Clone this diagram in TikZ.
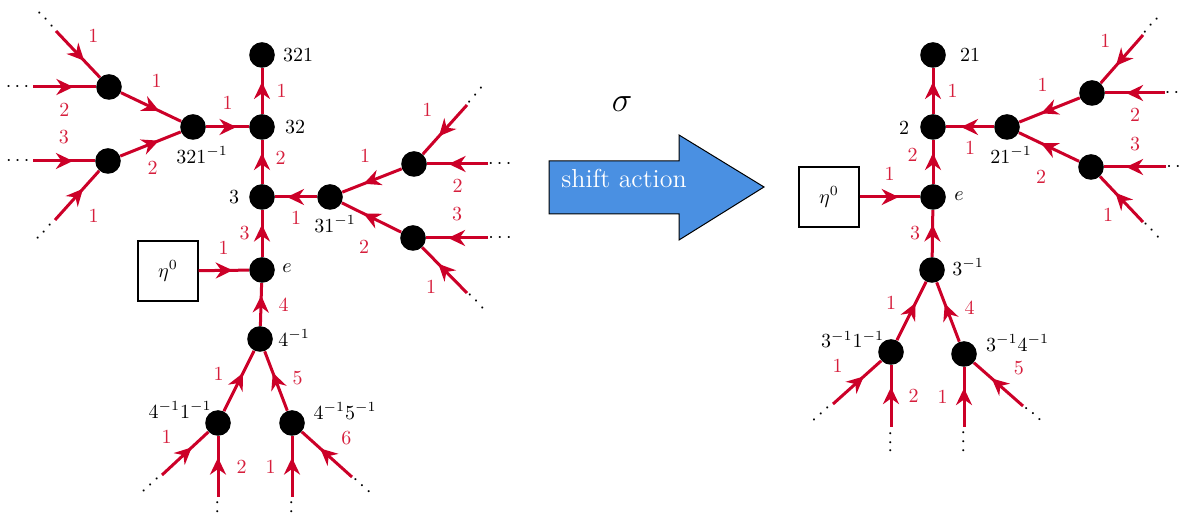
\documentclass[tikz,border=0pt]{standalone}
\usepackage{amsmath, amssymb}
\usepackage{tikz}
\usetikzlibrary{arrows.meta, positioning, calc, decorations.markings}

\definecolor{edgered}{RGB}{204,0,40}
\definecolor{lblred}{RGB}{214,30,60}
\definecolor{shiftblue}{RGB}{74,144,226}

\begin{document}
\begin{tikzpicture}[x=0.5pt, y=-0.5pt,
    V/.style={circle, fill=black, minimum size=12.8pt, inner sep=0pt},
    seed/.style={draw, line width=0.6pt, minimum size=30pt, inner sep=0pt},
    tag/.style={inner sep=0pt},
    lbl/.style={text=lblred, inner sep=2pt},
    dts/.style={text=black, inner sep=0pt, sloped, pos=-0.22},
    E/.style={edgered, line width=1.5pt, postaction={decorate},
      decoration={markings, mark=at position 0.5*\pgfdecoratedpathlength+4.5pt with {\arrow{Stealth[length=8.5pt, width=8pt, inset=2.8pt]}}}}
  ]
  \useasboundingbox (0,0) rectangle (1183,517);

  % ---- left tree ----
  \node[V] (n321) at (262,55) {};
  \node[V] (n32) at (262,127) {};
  \node[V] (n3) at (262,197) {};
  \node[V] (ne) at (262,270) {};
  \node[V] (n4i) at (260,339) {};
  \node[V] (n41) at (218,423) {};
  \node[V] (n45) at (292,423) {};
  \node[V] (n321i) at (193,127) {};
  \node[V] (nup) at (109,87) {};
  \node[V] (nlo) at (108,161) {};
  \node[V] (n31i) at (330,197) {};
  \node[V] (nru) at (414,164) {};
  \node[V] (nrl) at (413,238) {};
  \node[seed] (seedL) at (168,271) {$\eta^0$};

  % vertex names
  \node[tag] (t321) at ($(n321)+(36,0)$) {$321$};
  \node[tag] (t32) at ($(n32)+(33,0)$) {$32$};
  \node[tag] (t3) at ($(n3)+(-28,0)$) {$3$};
  \node[tag] (te) at ($(ne)+(25,-2)$) {$e$};
  \node[tag] (t4i) at ($(n4i)+(34,-1)$) {$4^{-1}$};
  \node[tag] (t321i) at ($(n321i)+(9,28)$) {$321^{-1}$};
  \node[tag] (t31i) at ($(n31i)+(5,27)$) {$31^{-1}$};
  \node[tag] (t41) at ($(n41)+(-38,-13)$) {$4^{-1}1^{-1}$};
  \node[tag] (t45) at ($(n45)+(53,-12)$) {$4^{-1}5^{-1}$};

  % loose ends
  \coordinate (lf1) at (56,31);
  \coordinate (lf2) at (33,87);
  \coordinate (lf3) at (33,161);
  \coordinate (lf4) at (55,220);
  \coordinate (lf5) at (162,475);
  \coordinate (lf6) at (218,497);
  \coordinate (lf7) at (292,497);
  \coordinate (lf8) at (352,477);
  \coordinate (lf9) at (467,105);
  \coordinate (lf10) at (488,164);
  \coordinate (lf11) at (488,238);
  \coordinate (lf12) at (467,293);

  \draw[E] (lf1) -- (nup) node[lbl, midway, above right=3pt and 2.5pt] {1} node[dts] {$\cdots$};
  \draw[E] (lf2) -- (nup) node[lbl, midway, below=5.5pt] {2} node[dts] {$\cdots$};
  \draw[E] (lf3) -- (nlo) node[lbl, midway, above=6pt] {3} node[dts] {$\cdots$};
  \draw[E] (lf4) -- (nlo) node[lbl, midway, below right=4pt and 3pt] {1} node[dts] {$\cdots$};
  \draw[E] (nup) -- (n321i) node[lbl, midway, above=7pt, xshift=2.75pt] {1};
  \draw[E] (nlo) -- (n321i) node[lbl, midway, below=6pt, xshift=1pt] {2};
  \draw[E] (n321i) -- (n32) node[lbl, midway, above=6pt] {1};
  \draw[E] (n32) -- (n321) node[lbl, midway, right=4.5pt] {1};
  \draw[E] (n3) -- (n32) node[lbl, midway, right=4pt, yshift=2pt] {2};
  \draw[E] (ne) -- (n3) node[lbl, midway, left=3.5pt] {3};
  \draw[E] (seedL) -- (ne) node[lbl, midway, above=5pt] {1};
  \draw[E] (n4i) -- (ne) node[lbl, midway, right=6pt] {4};
  \draw[E] (n41) -- (n4i) node[lbl, midway, left=5pt, yshift=3.5pt] {1};
  \draw[E] (n45) -- (n4i) node[lbl, midway, right=5.5pt, yshift=1.5pt] {5};
  \draw[E] (lf5) -- (n41) node[lbl, midway, above left=2pt and 4pt] {1} node[dts] {$\cdots$};
  \draw[E] (lf6) -- (n41) node[lbl, midway, right=6.5pt] {2} node[dts] {$\cdots$};
  \draw[E] (lf7) -- (n45) node[lbl, midway, left=5.5pt] {1} node[dts] {$\cdots$};
  \draw[E] (lf8) -- (n45) node[lbl, midway, above right=2pt and 4.5pt] {6} node[dts] {$\cdots$};
  \draw[E] (n31i) -- (n3) node[lbl, midway, below=4.5pt] {1};
  \draw[E] (nru) -- (n31i) node[lbl, midway, above=6pt, xshift=-3.5pt] {1};
  \draw[E] (nrl) -- (n31i) node[lbl, midway, below=8.5pt, xshift=-3.75pt] {2};
  \draw[E] (lf9) -- (nru) node[lbl, midway, above left=4pt and 3.5pt] {1} node[dts] {$\cdots$};
  \draw[E] (lf10) -- (nru) node[lbl, midway, below=5pt] {2} node[dts] {$\cdots$};
  \draw[E] (lf11) -- (nrl) node[lbl, midway, above=6pt] {3} node[dts] {$\cdots$};
  \draw[E] (lf12) -- (nrl) node[lbl, midway, below left=2pt and 1.5pt] {1} node[dts] {$\cdots$};

  % ---- shift arrow ----
  \node[font=\LARGE] (sigma) at (622,104) {$\sigma$};
  \draw[fill=shiftblue, line width=0.5pt] (549,161) -- (679,161) -- (679,135) -- (764,187)
    -- (679,240) -- (679,214) -- (549,214) -- cycle;
  \node[text=white, font=\fontsize{13}{15}\selectfont] (shifttxt) at (624,178) {shift action};

  % ---- right tree ----
  \node[V] (m21) at (933,55) {};
  \node[V] (m2) at (933,127) {};
  \node[V] (me) at (933,197) {};
  \node[V] (m3i) at (932,270) {};
  \node[V] (m31) at (891,352) {};
  \node[V] (m34) at (964,354) {};
  \node[V] (m21i) at (1007,127) {};
  \node[V] (mru) at (1092,93) {};
  \node[V] (mrl) at (1091,167) {};
  \node[seed] (seedR) at (829,197) {$\eta^0$};

  % vertex names
  \node[tag] (s21) at ($(m21)+(37,0)$) {$21$};
  \node[tag] (s2) at ($(m2)+(-29,1)$) {$2$};
  \node[tag] (se) at ($(me)+(26,-1)$) {$e$};
  \node[tag] (s3i) at ($(m3i)+(36,-3)$) {$3^{-1}$};
  \node[tag] (s21i) at ($(m21i)+(4,28)$) {$21^{-1}$};
  \node[tag] (s31) at ($(m31)+(-38.5,-12.5)$) {$3^{-1}1^{-1}$};
  \node[tag] (s34) at ($(m34)+(53.5,-11)$) {$3^{-1}4^{-1}$};

  % loose ends
  \coordinate (rf1) at (1143,35);
  \coordinate (rf2) at (1165,93);
  \coordinate (rf3) at (1166,167);
  \coordinate (rf4) at (1143,222);
  \coordinate (rf5) at (833,404);
  \coordinate (rf6) at (891,427);
  \coordinate (rf7) at (964,427);
  \coordinate (rf8) at (1023,406);

  \draw[E] (m2) -- (m21) node[lbl, midway, right=4.5pt] {1};
  \draw[E] (me) -- (m2) node[lbl, midway, left=5pt, yshift=3.5pt] {2};
  \draw[E] (m3i) -- (me) node[lbl, midway, left=3.5pt] {3};
  \draw[E] (seedR) -- (me) node[lbl, midway, above=5.5pt] {1};
  \draw[E] (m21i) -- (m2) node[lbl, midway, below=4.5pt] {1};
  \draw[E] (mru) -- (m21i) node[lbl, midway, above=6.5pt, xshift=-3.5pt] {1};
  \draw[E] (mrl) -- (m21i) node[lbl, midway, below=9pt, xshift=-4pt] {2};
  \draw[E] (rf1) -- (mru) node[lbl, midway, above left=3pt and 3pt] {1} node[dts] {$\cdots$};
  \draw[E] (rf2) -- (mru) node[lbl, midway, below=5pt] {2} node[dts] {$\cdots$};
  \draw[E] (rf3) -- (mrl) node[lbl, midway, above=5.5pt] {3} node[dts] {$\cdots$};
  \draw[E] (rf4) -- (mrl) node[lbl, midway, below left=1.5pt and 1.5pt] {1} node[dts] {$\cdots$};
  \draw[E] (m31) -- (m3i) node[lbl, midway, left=5pt, yshift=4pt] {1};
  \draw[E] (m34) -- (m3i) node[lbl, midway, right=5.5pt, yshift=2pt] {4};
  \draw[E] (rf5) -- (m31) node[lbl, midway, above left=2pt and 4.5pt] {1} node[dts] {$\cdots$};
  \draw[E] (rf6) -- (m31) node[lbl, midway, right=6pt] {2} node[dts] {$\cdots$};
  \draw[E] (rf7) -- (m34) node[lbl, midway, left=5.5pt] {1} node[dts] {$\cdots$};
  \draw[E] (rf8) -- (m34) node[lbl, midway, above right=2pt and 5pt] {5} node[dts] {$\cdots$};
\end{tikzpicture}
\end{document}
